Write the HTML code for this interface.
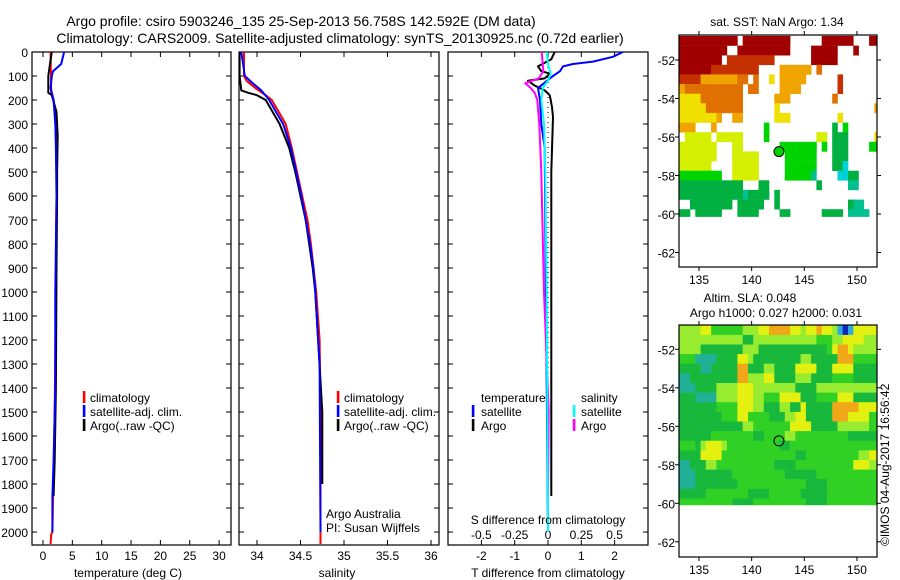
<!DOCTYPE html>
<html><head><meta charset="utf-8"><title>Argo profile</title>
<style>
html,body{margin:0;padding:0;background:#fff;}
svg{display:block;font-family:"Liberation Sans",sans-serif;}
</style></head>
<body>
<svg id="fig" width="900" height="580" viewBox="0 0 900 580" xmlns="http://www.w3.org/2000/svg">
<rect x="0" y="0" width="900" height="580" fill="#fff"/>
<text x="301" y="26" font-size="14" text-anchor="middle">Argo profile: csiro 5903246_135 25-Sep-2013 56.758S 142.592E (DM data)</text>
<text x="340" y="43" font-size="14" text-anchor="middle">Climatology: CARS2009. Satellite-adjusted climatology: synTS_20130925.nc (0.72d earlier)</text>
<g id="layer"></g>
</svg>
<script>
// ---- profile data ----
const depthTicks = [0,100,200,300,400,500,600,700,800,900,1000,1100,1200,1300,1400,1500,1600,1700,1800,1900,2000];
const tempTicks = [0,5,10,15,20,25,30];
const salTicks = [34,34.5,35,35.5,36];
const tdiffTicks = [-2,-1,0,1,2];
const sdiffTicks = [-0.5,-0.25,0,0.25,0.5];
const latTicks = [-52,-54,-56,-58,-60,-62];
const lonTicks = [135,140,145,150];

const tClimDepth = [0,170,200,300,400,600,1000,1500,2000,2010,2050];
const tClimVal   = [1.3,1.4,1.8,2.2,2.4,2.3,2.2,2.0,1.6,1.4,1.3];
const tSatDepth  = [0,50,80,100,150,200,300,400,600,1000,1400,1500,1700,1850,2000];
const tSatVal    = [3.6,3.1,1.7,1.5,1.3,1.8,2.1,2.2,2.3,2.1,2.1,2.0,1.8,1.6,1.6];
const tArgoDepth = [0,50,100,170,180,250,350,500,600,900,1400,1700,1850];
const tArgoVal   = [1.5,1.2,0.9,0.9,1.5,2.3,2.5,2.4,2.4,2.3,2.2,2.0,1.8];

const sClimDepth = [0,100,120,150,180,200,250,300,400,500,600,700,800,900,1000,1200,1500,2000,2050];
const sClimVal   = [33.85,33.85,33.88,33.98,34.10,34.17,34.25,34.33,34.40,34.46,34.52,34.58,34.62,34.65,34.68,34.72,34.73,34.73,34.73];
const sSatDepth  = [0,100,130,160,200,250,300,400,500,600,700,800,900,1000,1300,2000];
const sSatVal    = [33.82,33.86,33.95,34.05,34.14,34.22,34.30,34.39,34.45,34.51,34.56,34.61,34.65,34.67,34.72,34.73];
const sArgoDepth = [0,100,160,170,180,200,250,300,400,500,600,700,800,900,1000,1500,1800];
const sArgoVal   = [33.80,33.80,33.82,33.90,34.00,34.10,34.18,34.26,34.37,34.44,34.50,34.56,34.60,34.64,34.67,34.75,34.75];

const dTSatDepth = [0,20,40,50,60,80,100,120,150,200,300,400,1200,2000];
const dTSatVal   = [2.25,1.95,1.35,0.75,0.45,0.36,0.15,-0.03,-0.3,-0.24,-0.2,-0.1,-0.05,0.0];
const dTArgoDepth = [0,30,60,80,90,110,120,140,160,180,200,230,270,500,1000,1850];
const dTArgoVal   = [0.2,0.1,-0.3,-0.2,0.06,-0.1,-0.6,-0.4,-0.1,0.05,0.08,0.12,0.15,0.1,0.1,0.1];
const dSArgoDepth = [0,50,80,110,130,150,170,200,300,500,1000,1500,1850];
const dSArgoVal   = [-0.047,-0.04,-0.035,-0.07,-0.17,-0.13,-0.1,-0.08,-0.065,-0.05,-0.03,0.005,0.0];
const dSSatDepth  = [0,50,90,120,150,200,300,500,1000,2000];
const dSSatVal    = [-0.01,0.0,0.02,0.0,-0.04,-0.05,-0.03,-0.02,-0.01,0.0];

// ---- map data (RLE rows, 0.5 deg cells from 133.15E, -50.75 lat) ----
const sstRows = [
"R11.1R9.6R6.3R2","R9.2R10.4R5.3R1.4","R8.1r9.7R5.8","R6r9.4O6.1o1.11",
"r4O7o2.1o1.2y1.1O5.6r1.7","O1o11.1o2.4O4.7r1.7","y4o8.6O3.8o1.8","y5o7.6y1.18O1",
"y7O1.2O2.6y3.9y1.7","O3.3O1.9g1.12G1.1g1.6",".1Y5.1Y5.4g1.9Y2.1G3.5y1","Y7.3Y2.7g7.1g1.1G3.4g2",
"Y7.3Y5.5g6.3G3.6","Y6.4Y5.5g6.3G2c1.6","g8.2Y5.5g5t1.4c2G2.4","G12.3G2.9G1.5t2.4",
"G12t1G4.1G1.19",".2G8.1G5.2G1.13G1t2.3","G2.1G5.3G4.4G2.6G4.1t4.2"];
const slaRows = [
"l4y2g6l3y2o4y2l1y2o1y2l1c1b1c1y5","l12G2l12g3l2y4l3","l4G8l3G13g1y1o2y1l5","g3t4G4y2l1G9l2G5o3g5",
"G4t2G5o2G3l2G4y4G3y4G5","t2G9o2l3y2G4l3G4g4G5","t3G4l4y3l8G4l12","G3t4l4y3l2g3y4G3g4y3G5",
"G7g4y3l2G3l2G2y1G5o5y4","G8g3y2g4G3l2y2G5o3y4g2","G12l2g7y4G5l6g2","G6g8G2g4l2g10G6",
"g3G1l1y3l1g10G2g17","G4y4g14G2g10l2y2","t2G3l2g11G4g11y3l2","t3G7g10G6g12",
"t3G8g13G4g10","G5g8G4g6G5g10","g10G4g10G4g10"];
const argoLon = 142.592, argoLat = -56.758;

const sstColors = {R:"#a00000",r:"#c43000",o:"#e07000",O:"#f0a400",y:"#f0e000",Y:"#d4f000",g:"#00d400",G:"#00b040",t:"#00c090",c:"#00d0d8"};
const slaColors = {g:"#30d024",G:"#18b83c",t:"#20b098",l:"#98ec30",y:"#e4f010",o:"#f0a818",b:"#0828c0",c:"#30a8e0"};

const NS="http://www.w3.org/2000/svg";
const layer=document.getElementById('layer');
function el(tag,attrs,parent){const e=document.createElementNS(NS,tag);for(const k in attrs)e.setAttribute(k,attrs[k]);(parent||layer).appendChild(e);return e;}

const PY0=52, PY1=545, DMAX=2054;
function yD(d){return PY0+d*(PY1-PY0)/DMAX;}

function panel(name,x0,x1){
  const g=el('g',{});
  
  
  el('rect',{x:x0,y:PY0,width:x1-x0,height:PY1-PY0,fill:'none',stroke:'#000','stroke-width':1.2},g);
  depthTicks.forEach(d=>{const y=yD(d);
    el('line',{x1:x0,x2:x0+5,y1:y,y2:y,stroke:'#000'},g);
    el('line',{x1:x1-5,x2:x1,y1:y,y2:y,stroke:'#000'},g);});
  return g;
}
function line(g,xf,depths,vals,color,name,w){
  const pts=depths.map((d,i)=>xf(vals[i]).toFixed(1)+','+yD(d).toFixed(1)).join(' ');
  const p=el('polyline',{points:pts,fill:'none',stroke:color,'stroke-width':w||2,'stroke-linejoin':'round'},g);
  
  
}
function txt(g,x,y,s,anchor,size,name){
  const t=el('text',{x:x,y:y,'font-size':size||12,'text-anchor':anchor||'start'},g);
  t.textContent=s;
  
  
  return t;
}
function legendMark(g,x,y,color,name){
  const r=el('rect',{x:x-1.2,y:y-11,width:2.6,height:12,fill:color},g);
  
  
}

// ---- panel 1 temperature ----
const xT=v=>43+v*5.87;
const g1=panel('temperature-panel',32,231);
tempTicks.forEach(t=>{const x=xT(t);
  el('line',{x1:x,x2:x,y1:PY0,y2:PY0+5,stroke:'#000'},g1);
  el('line',{x1:x,x2:x,y1:PY1-5,y2:PY1,stroke:'#000'},g1);
  txt(g1,x,560,String(t),'middle',12,'temp-tick-label');});
depthTicks.forEach(d=>txt(g1,28,yD(d)+5,String(d),'end',12,'depth-tick-label'));
line(g1,xT,tClimDepth,tClimVal,'#ff0000','temp-climatology-line');
line(g1,xT,tArgoDepth,tArgoVal,'#000000','temp-argo-line');
line(g1,xT,tSatDepth,tSatVal,'#0000ff','temp-satellite-line');
txt(g1,128,577,'temperature (deg C)','middle',12,'x-axis-title-temperature');
[['climatology','#ff0000'],['satellite-adj. clim.','#0000ff'],['Argo(..raw -QC)','#000']].forEach((l,i)=>{
  legendMark(g1,84,402+i*14,l[1],'legend-marker');
  txt(g1,90,402+i*14,l[0],'start',12,'legend-entry');});

// ---- panel 2 salinity ----
const xS=v=>257+(v-34)*87;
const g2=panel('salinity-panel',239,439);
salTicks.forEach(t=>{const x=xS(t);
  el('line',{x1:x,x2:x,y1:PY0,y2:PY0+5,stroke:'#000'},g2);
  el('line',{x1:x,x2:x,y1:PY1-5,y2:PY1,stroke:'#000'},g2);
  txt(g2,x,560,String(t),'middle',12,'salinity-tick-label');});
line(g2,xS,sClimDepth,sClimVal,'#ff0000','sal-climatology-line');
line(g2,xS,sArgoDepth,sArgoVal,'#000000','sal-argo-line');
line(g2,xS,sSatDepth,sSatVal,'#0000ff','sal-satellite-line');
txt(g2,337,577,'salinity','middle',12,'x-axis-title-salinity');
[['climatology','#ff0000'],['satellite-adj. clim.','#0000ff'],['Argo(..raw -QC)','#000']].forEach((l,i)=>{
  legendMark(g2,338,402+i*14,l[1],'legend-marker');
  txt(g2,344,402+i*14,l[0],'start',12,'legend-entry');});
txt(g2,326,518,'Argo Australia','start',12,'credit-argo-australia');
txt(g2,326,532,'PI: Susan Wijffels','start',12,'credit-pi');

// ---- panel 3 differences ----
const xDT=v=>548+v*33.3;
const xDS=v=>548+v*133.3;
const g3=panel('difference-panel',448,648);
tdiffTicks.forEach(t=>{const x=xDT(t);
  el('line',{x1:x,x2:x,y1:PY0,y2:PY0+5,stroke:'#000'},g3);
  el('line',{x1:x,x2:x,y1:PY1-5,y2:PY1,stroke:'#000'},g3);
  txt(g3,x,560,String(t),'middle',12,'tdiff-tick-label');});
sdiffTicks.forEach(t=>txt(g3,xDS(t),539,String(t),'middle',12,'sdiff-tick-label'));
el('line',{x1:xDT(0),x2:xDT(0),y1:yD(0),y2:yD(2000),stroke:'#000','stroke-width':1,'stroke-dasharray':'1,4'},g3);
line(g3,xDT,dTArgoDepth,dTArgoVal,'#000000','tdiff-argo-line');
line(g3,xDT,dTSatDepth,dTSatVal,'#0000ff','tdiff-satellite-line');
line(g3,xDS,dSArgoDepth,dSArgoVal,'#ff00ff','sdiff-argo-line');
line(g3,xDS,dSSatDepth,dSSatVal,'#00ffff','sdiff-satellite-line');
txt(g3,548,524,'S difference from climatology','middle',12,'s-diff-axis-title');
txt(g3,548,577,'T difference from climatology','middle',12,'x-axis-title-tdiff');
txt(g3,481,402,'temperature','start',12,'legend-title-temperature');
txt(g3,581,402,'salinity','start',12,'legend-title-salinity');
legendMark(g3,473,416,'#0000ff','legend-marker');txt(g3,481,416,'satellite','start',12,'legend-entry');
legendMark(g3,473,430,'#000','legend-marker');txt(g3,481,430,'Argo','start',12,'legend-entry');
legendMark(g3,574,416,'#00ffff','legend-marker');txt(g3,581,416,'satellite','start',12,'legend-entry');
legendMark(g3,574,430,'#ff00ff','legend-marker');txt(g3,581,430,'Argo','start',12,'legend-entry');

// ---- maps ----
const MX0=679, MX1=877;
const xL=lon=>699+(lon-135)*10.53;
function drawMap(name,top,bottom,lat52y,rows,colors,clipLat,idx){
  const g=el('g',{});
  
  
  const yL=lat=>lat52y+(-52-lat)*19.25;
  const cid='clip'+idx;
  const cp=el('clipPath',{id:cid},g);
  el('rect',{x:MX0,y:top,width:MX1-MX0,height:Math.min(bottom,yL(clipLat))-top},cp);
  const cg=el('g',{'clip-path':'url(#'+cid+')'},g);
  rows.forEach((row,r)=>{
    let c=0;const re=/([A-Za-z.])(\d+)/g;let m;
    while((m=re.exec(row))){const ch=m[1],n=+m[2];
      if(ch!=='.'){
        const x0=xL(133.15+c*0.5), x1=xL(133.15+(c+n)*0.5);
        const y0=yL(-50.75-r*0.5), y1=yL(-51.25-r*0.5);
        const cell=el('rect',{x:x0.toFixed(1),y:y0.toFixed(1),width:(x1-x0+0.3).toFixed(1),height:(y1-y0+0.3).toFixed(1),fill:colors[ch]},cg);
        
        
      }
      c+=n;}
  });
  el('rect',{x:MX0,y:top,width:MX1-MX0,height:bottom-top,fill:'none',stroke:'#000','stroke-width':1.2},g);
  latTicks.forEach(l=>{const y=yL(l);
    el('line',{x1:MX0-4,x2:MX0,y1:y,y2:y,stroke:'#000'},g);
    el('line',{x1:MX1,x2:MX1+4,y1:y,y2:y,stroke:'#000'},g);
    txt(g,675,y+5,String(l),'end',12,'lat-tick-label');});
  lonTicks.forEach(l=>{const x=xL(l);
    el('line',{x1:x,x2:x,y1:top-4,y2:top,stroke:'#000'},g);
    el('line',{x1:x,x2:x,y1:bottom,y2:bottom+4,stroke:'#000'},g);
    txt(g,x,bottom+17,String(l),'middle',12,'lon-tick-label');});
  const mk=el('circle',{cx:xL(argoLon),cy:yL(argoLat),r:5,fill:idx===0?'#00d400':'none',stroke:'#000','stroke-width':1},g);
  
  
  return g;
}
const gm1=drawMap('sst-map',35,267,60,sstRows,sstColors,-60.15,0);
txt(gm1,777,26,'sat. SST: NaN Argo: 1.34','middle',12,'sst-map-title');
const gm2=drawMap('sla-map',325,557,349.3,slaRows,slaColors,-60.1,1);
txt(gm2,750,302,'Altim. SLA: 0.048','middle',12,'sla-map-title');
txt(gm2,776,317,'Argo h1000: 0.027 h2000: 0.031','middle',12,'sla-map-subtitle');
const cr=txt(layer,0,0,'\u00A9IMOS 04-Aug-2017 16:56:42','start',12,'copyright-timestamp');
cr.setAttribute('transform','translate(889,546) rotate(-90)');
</script>
</body></html>
